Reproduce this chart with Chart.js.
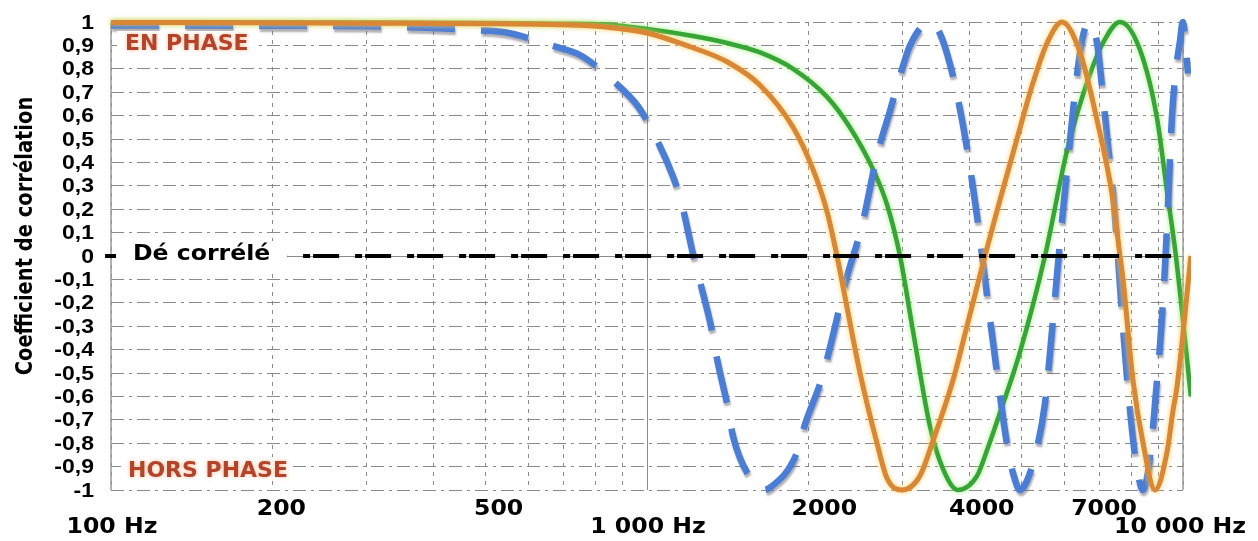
<!DOCTYPE html>
<html lang="fr">
<head>
  <meta charset="UTF-8">
  <title>Coefficient de corrélation</title>
  <style>
    html, body { margin: 0; padding: 0; background: #fff; }
    #wrap { width: 1258px; height: 541px; }
  </style>
  <script src="https://cdn.jsdelivr.net/npm/chart.js"></script>
</head>
<body>
  <div id="wrap"><canvas id="chart" width="1258" height="541"></canvas></div>

  <script>
    // courbes (fréquence en Hz, coefficient)
    const blueF = [100, 200, 300, 389, 482, 543, 668, 753, 853, 962, 1026, 1118, 1162, 1218, 1256, 1322, 1351, 1416, 1447, 1570,
      1640, 1696, 1905, 1971, 2121, 2233, 2353, 2518, 2686, 2840, 2965, 3096, 3373, 3521, 3675, 3804, 3954, 4128, 4310, 4498,
      4716, 4850, 4965, 5117, 5341, 5527, 5696, 5895, 6103, 6288, 6478, 6677, 6912, 7092, 7246, 7404, 7532, 7695, 7862, 8031,
      8170, 8420, 8607, 8752, 8905, 9060, 9217, 9377, 9539, 9705, 9872, 9990, 10217];
    const blueV = [0.985, 0.984, 0.982, 0.975, 0.965, 0.956, 0.898, 0.857, 0.76, 0.64, 0.53, 0.34, 0.22, 0.01, -0.11, -0.32, -0.44, -0.65, -0.77, -0.96,
      -1.0, -0.99, -0.84, -0.72, -0.52, -0.32, -0.10, 0.13, 0.43, 0.62, 0.77, 0.90, 1.0, 0.95, 0.82, 0.67, 0.46, 0.17, -0.17, -0.50,
      -0.83, -0.95, -1.0, -0.96, -0.82, -0.63, -0.32, 0.06, 0.41, 0.70, 0.92, 1.0, 0.91, 0.68, 0.47, 0.27, 0.05, -0.25, -0.52, -0.74,
      -0.88, -1.0, -0.92, -0.78, -0.58, -0.38, -0.12, 0.22, 0.60, 0.80, 0.92, 1.0, 0.78];

    const orangeF = [100, 200, 300, 500, 700, 828, 1000, 1218, 1410, 1625, 1873, 2040, 2167, 2262, 2321, 2497, 2686, 2804, 2990, 3229,
      3416, 3724, 3953, 4270, 4556, 4900, 5250, 5576, 5948, 6424, 6913, 7403, 7628, 7727, 8066, 8423, 8868, 9333, 9581, 9745,
      10345];
    const orangeV = [0.998, 0.997, 0.995, 0.993, 0.988, 0.98, 0.953, 0.89, 0.83, 0.73, 0.55, 0.37, 0.19, 0.0, -0.13, -0.50, -0.80, -0.95, -1.0, -0.94,
      -0.79, -0.53, -0.30, 0.0, 0.24, 0.50, 0.74, 0.91, 1.0, 0.87, 0.58, 0.24, 0.0, -0.10, -0.53, -0.80, -1.0, -0.84, -0.66, -0.56,
      0.0];

    const greenF = [100, 300, 500, 700, 828, 1000, 1218, 1410, 1625, 1873, 2167, 2390, 2641, 2804, 2965, 3135, 3374, 3566, 3802, 4128,
      4309, 4556, 4965, 5527, 6076, 6620, 7090, 7628, 8315, 8942, 9333, 9700, 10345];
    const greenV = [0.999, 0.998, 0.996, 0.993, 0.99, 0.97, 0.94, 0.91, 0.87, 0.80, 0.68, 0.55, 0.37, 0.22, 0.0, -0.32, -0.73, -0.91, -1.0, -0.94,
      -0.83, -0.67, -0.41, 0.0, 0.45, 0.74, 0.91, 1.0, 0.88, 0.59, 0.28, 0.0, -0.60];

    // ligne "Dé corrélé"
    const zeroF = [97.5, 10000];
    const zeroV = [0, 0];

    // axe des fréquences
    const xGrid = [100, 200, 300, 400, 500, 600, 700, 800, 900, 1000, 2000, 3000, 4000, 5000, 6000, 7000, 8000, 9000, 10000];
    const xLabels = ['100 Hz', '200', '500', '1 000 Hz', '2000', '4000', '7000', '10 000 Hz'];
    const xLabelAt = [100, 200, 500, 1000, 2000, 4000, 7000, 10000];

    const pts = (fs, vs) => fs.map((f, i) => ({ x: f, y: vs[i] }));

    function stretchText(ctx, txt, x, y, sx, align) {
      ctx.save();
      ctx.translate(x, y);
      ctx.scale(sx, 1);
      ctx.textAlign = align;
      ctx.fillText(txt, 0, 0);
      ctx.restore();
    }

    const decor = {
      id: 'decor',
      beforeDatasetsDraw(chart) {
        const { ctx, chartArea: a, scales: { x, y } } = chart;
        ctx.save();
        ctx.strokeStyle = '#8c8c8c';
        ctx.lineWidth = 1;
        ctx.beginPath();
        const x1000 = Math.round(x.getPixelForValue(1000)) + 0.5;
        ctx.moveTo(x1000, a.top); ctx.lineTo(x1000, a.bottom);
        const y0 = Math.round(y.getPixelForValue(0)) + 0.5;
        ctx.moveTo(a.left, y0); ctx.lineTo(a.right, y0);
        ctx.stroke();
        ctx.strokeStyle = '#9a9a9a';
        ctx.lineWidth = 1.5;
        ctx.beginPath();
        ctx.moveTo(a.left, a.top); ctx.lineTo(a.left, a.bottom);
        ctx.moveTo(a.right, a.top); ctx.lineTo(a.right, a.bottom);
        ctx.stroke();
        ctx.restore();
      },
      beforeDatasetDraw(chart, args) {
        const g = chart.data.datasets[args.index].glow;
        const ctx = chart.ctx;
        ctx.save();
        if (g) {
          ctx.shadowColor = g.color;
          ctx.shadowBlur = g.blur;
          ctx.shadowOffsetX = g.dx;
          ctx.shadowOffsetY = g.dy;
        }
      },
      afterDatasetDraw(chart) {
        chart.ctx.restore();
      },
      afterDraw(chart) {
        const { ctx, scales: { x, y } } = chart;
        ctx.save();

        // graduations verticales
        ctx.fillStyle = '#000';
        ctx.font = 'bold 20px "Liberation Sans", Arial, sans-serif';
        ctx.textBaseline = 'middle';
        y.ticks.forEach(t => {
          const v = Math.round(t.value * 10) / 10;
          const txt = String(v).replace('.', ',');
          stretchText(ctx, txt, 94, y.getPixelForValue(v) + 1, 1.15, 'right');
        });

        // graduations horizontales
        const dx = [1, 9, 13, 1, 16, 12, 4, -3];
        const row = [533, 515, 515, 533, 515, 515, 515, 533];
        ctx.font = 'bold 20.5px "DejaVu Sans", Verdana, sans-serif';
        ctx.textBaseline = 'alphabetic';
        xLabels.forEach((txt, i) => {
          stretchText(ctx, txt, x.getPixelForValue(xLabelAt[i]) + dx[i], row[i], 1.15, 'center');
        });

        // titre de l'axe
        ctx.save();
        ctx.font = 'bold 19.5px "DejaVu Sans", Verdana, sans-serif';
        ctx.translate(32, 236);
        ctx.scale(1.15, 1);
        ctx.rotate(-Math.PI / 2);
        ctx.textAlign = 'center';
        ctx.fillText('Coefficient de corrélation', 0, 0);
        ctx.restore();

        // Dé corrélé
        ctx.fillStyle = '#fff';
        ctx.fillRect(116, 241, 171, 28);
        ctx.fillStyle = '#000';
        ctx.font = 'bold 20.5px "DejaVu Sans", Verdana, sans-serif';
        stretchText(ctx, 'Dé corrélé', 133, 260, 1.15, 'left');

        // EN PHASE / HORS PHASE
        ctx.fillStyle = '#fff';
        ctx.fillRect(117, 31, 137, 24);
        ctx.fillRect(121, 457, 171, 24);
        ctx.font = 'bold 22px "DejaVu Sans", Verdana, sans-serif';
        ctx.fillStyle = '#b5422a';
        ctx.shadowColor = 'rgba(245,170,120,0.8)';
        ctx.shadowBlur = 4;
        ctx.textAlign = 'left';
        ctx.fillText('EN PHASE', 125, 50);
        ctx.fillText('HORS PHASE', 128, 477);
        ctx.restore();
      }
    };

    const clip = { left: 8, top: 8, right: 8, bottom: 8 };

    new Chart(document.getElementById('chart'), {
      type: 'line',
      data: {
        datasets: [
          {
            label: 'Dé corrélé',
            data: pts(zeroF, zeroV),
            borderColor: '#000',
            borderWidth: 4,
            borderDash: [26, 16, 7, 3],
            cubicInterpolationMode: 'default',
            tension: 0,
            clip: clip,
            order: 0
          },
          {
            label: 'orange',
            data: pts(orangeF, orangeV),
            borderColor: '#d98734',
            borderWidth: 5,
            clip: clip,
            glow: { color: 'rgba(255,205,90,0.9)', blur: 5, dx: 0, dy: 0 },
            order: 1
          },
          {
            label: 'bleu',
            data: pts(blueF, blueV),
            borderColor: '#4a7dd6',
            borderWidth: 6.5,
            borderDash: [48, 26],
            clip: clip,
            glow: { color: 'rgba(110,110,120,0.55)', blur: 2, dx: 1, dy: 3 },
            order: 2
          },
          {
            label: 'vert',
            data: pts(greenF, greenV),
            borderColor: '#36a536',
            borderWidth: 4.5,
            clip: clip,
            glow: { color: 'rgba(150,235,120,0.9)', blur: 5, dx: 0, dy: 0 },
            order: 3
          }
        ]
      },
      options: {
        responsive: false,
        animation: false,
        devicePixelRatio: 1,
        layout: { padding: { left: 0, right: 75, top: 22, bottom: 0 } },
        plugins: {
          legend: { display: false },
          tooltip: { enabled: false }
        },
        elements: {
          point: { radius: 0 },
          line: { cubicInterpolationMode: 'monotone', borderCapStyle: 'butt', fill: false }
        },
        scales: {
          x: {
            type: 'logarithmic',
            min: 100,
            max: 10000,
            afterBuildTicks: s => { s.ticks = xGrid.map(v => ({ value: v })); },
            afterFit: s => { s.height = 51; },
            ticks: { display: false },
            grid: {
              color: c => (c.tick && c.tick.value === 1000) ? 'rgba(0,0,0,0)' : '#8a8a8a',
              lineWidth: 1,
              drawTicks: false
            },
            border: { display: false, dash: [4, 5] }
          },
          y: {
            min: -1,
            max: 1,
            afterFit: s => { s.width = 111; },
            ticks: { stepSize: 0.1, display: false },
            grid: { color: '#8a8a8a', lineWidth: 1, drawTicks: false },
            border: { display: false, dash: [13, 5, 3, 5] }
          }
        }
      },
      plugins: [decor]
    });
  </script>
</body>
</html>
